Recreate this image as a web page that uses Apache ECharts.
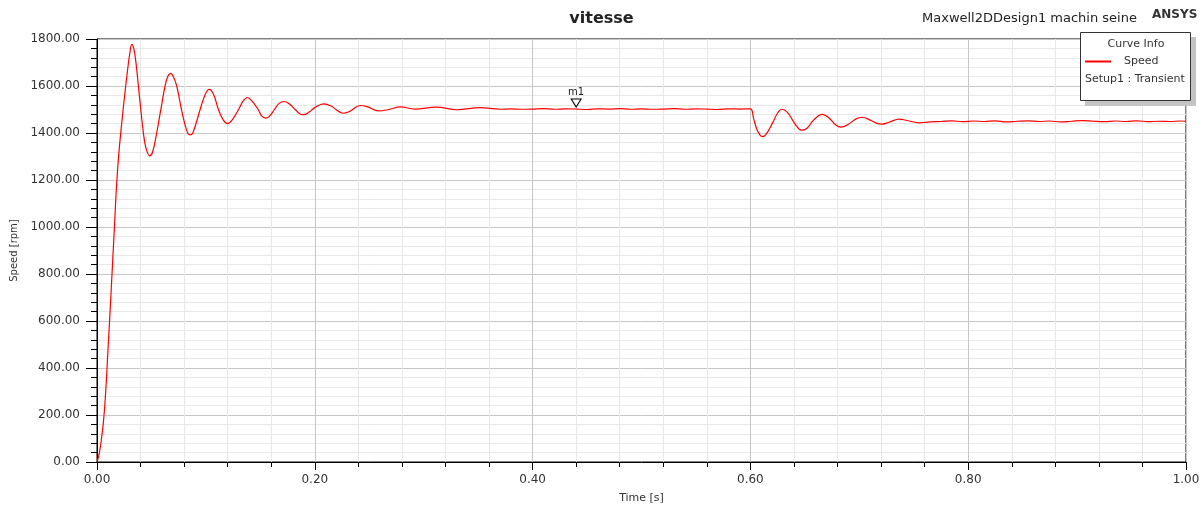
<!DOCTYPE html>
<html>
<head>
<meta charset="utf-8">
<title>vitesse</title>
<script src="https://cdn.jsdelivr.net/npm/echarts@6/dist/echarts.min.js"></script>
<style>
  html, body { margin: 0; padding: 0; background: #fff; }
  #chart { width: 1203px; height: 509px; }
</style>
</head>
<body>
<div id="chart"></div>
<script>
// Rotor speed of the machine over the transient run (time in s, speed in rpm)
const timeS = [
  0, 0.002, 0.004, 0.006, 0.008, 0.010, 0.012, 0.014, 0.016, 0.018,
  0.020, 0.022, 0.024, 0.026, 0.028, 0.030, 0.032, 0.034, 0.036, 0.038,
  0.040, 0.0426, 0.045, 0.0484, 0.051, 0.0548, 0.059, 0.0625, 0.065, 0.0677,
  0.070, 0.0732, 0.078, 0.0824, 0.0852, 0.088, 0.0947, 0.099, 0.103, 0.107,
  0.1115, 0.116, 0.120, 0.124, 0.130, 0.134, 0.138, 0.142, 0.148, 0.151,
  0.155, 0.158, 0.163, 0.167, 0.172, 0.177, 0.182, 0.187, 0.190, 0.195,
  0.200, 0.208, 0.215, 0.220, 0.2258, 0.232, 0.2417, 0.248, 0.2586, 0.268,
  0.2785, 0.292, 0.3116, 0.3306, 0.352, 0.37, 0.38, 0.39, 0.40, 0.41,
  0.42, 0.43, 0.44, 0.45, 0.46, 0.47, 0.48, 0.49, 0.50, 0.51,
  0.52, 0.53, 0.54, 0.55, 0.56, 0.57, 0.58, 0.59, 0.600, 0.603,
  0.606, 0.609, 0.611, 0.614, 0.620, 0.625, 0.629, 0.634, 0.640, 0.645,
  0.648, 0.652, 0.658, 0.666, 0.672, 0.678, 0.683, 0.690, 0.697, 0.703,
  0.710, 0.716, 0.721, 0.728, 0.7365, 0.745, 0.755, 0.765, 0.775, 0.785,
  0.795, 0.805, 0.815, 0.825, 0.835, 0.845, 0.855, 0.865, 0.875, 0.885,
  0.895, 0.905, 0.915, 0.925, 0.935, 0.945, 0.955, 0.965, 0.975, 0.985,
  0.995, 1.0
];
const speedRpm = [
  0, 35, 95, 175, 300, 470, 640, 820, 1000, 1180,
  1310, 1410, 1500, 1585, 1665, 1735, 1777, 1755, 1690, 1600,
  1510, 1400, 1335, 1303, 1318, 1400, 1510, 1600, 1640, 1654,
  1640, 1600, 1490, 1410, 1392, 1400, 1500, 1560, 1586, 1565,
  1500, 1455, 1440, 1455, 1500, 1535, 1551, 1538, 1500, 1474,
  1463, 1470, 1500, 1525, 1534, 1522, 1500, 1480, 1478, 1490,
  1508, 1524, 1515, 1498, 1484, 1492, 1517, 1512, 1494, 1500,
  1511, 1502, 1510, 1499, 1508, 1501, 1503, 1501, 1502, 1504,
  1501, 1503, 1502, 1500, 1503, 1502, 1504, 1501, 1503, 1501,
  1502, 1504, 1501, 1503, 1502, 1500, 1503, 1502, 1503, 1460,
  1415, 1390, 1385, 1392, 1440, 1485, 1501, 1488, 1445, 1416,
  1412, 1420, 1455, 1479, 1465, 1436, 1425, 1437, 1460, 1467,
  1455, 1441, 1438, 1447, 1459, 1452, 1443, 1447, 1449, 1452,
  1448, 1451, 1449, 1452, 1447, 1450, 1452, 1449, 1451, 1447,
  1450, 1453, 1450, 1448, 1451, 1449, 1452, 1448, 1450, 1449,
  1451, 1450
];

// Marker m1
const markerTime = 0.44;
const markerSpeed = 1502;

const xTicks = { min: 0, max: 1, interval: 0.2 };
const yTicks = { min: 0, max: 1800, interval: 200 };

const FONT = 'DejaVu Sans';
const TEXT = '#333';

const speedData = timeS.map((t, i) => [t, speedRpm[i]]);

const chart = echarts.init(document.getElementById('chart'), null, { renderer: 'canvas' });

chart.setOption({
  animation: false,
  backgroundColor: '#fff',
  title: {
    text: 'vitesse',
    left: 'center',
    top: 11,
    padding: 0,
    textStyle: { fontFamily: FONT, fontSize: 16, fontWeight: 'bold', color: '#222' }
  },
  grid: {
    left: 97, right: 17, top: 39, bottom: 46,
    show: true, borderColor: '#000', borderWidth: 1, backgroundColor: 'transparent'
  },
  legend: {
    data: ['Speed'],
    left: 1085,
    top: 56,
    padding: 0,
    icon: 'rect',
    itemWidth: 26,
    itemHeight: 2,
    z: 6,
    textStyle: { fontFamily: FONT, fontSize: 11, color: TEXT, padding: [0, 0, 0, 8] }
  },
  xAxis: {
    type: 'value',
    min: xTicks.min, max: xTicks.max, interval: xTicks.interval,
    name: 'Time [s]',
    nameLocation: 'middle',
    nameGap: 31,
    nameTextStyle: { fontFamily: FONT, fontSize: 11, color: TEXT },
    axisLine: { show: true, onZero: false, lineStyle: { color: '#000', width: 1 } },
    axisTick: { show: true, length: 8, lineStyle: { color: '#000' } },
    minorTick: { show: true, splitNumber: 5, length: 5, lineStyle: { color: '#000' } },
    axisLabel: {
      margin: 12,
      fontFamily: FONT, fontSize: 12, color: TEXT,
      formatter: v => v.toFixed(2)
    },
    splitLine: { show: true, lineStyle: { color: '#c6c6c6', width: 1 } },
    minorSplitLine: { show: true, lineStyle: { color: '#e8e8e8', width: 1 } }
  },
  yAxis: {
    type: 'value',
    min: yTicks.min, max: yTicks.max, interval: yTicks.interval,
    name: 'Speed [rpm]',
    nameLocation: 'middle',
    nameGap: 68,
    nameTextStyle: { fontFamily: FONT, fontSize: 10, color: TEXT },
    axisLine: { show: true, onZero: false, lineStyle: { color: '#000', width: 1 } },
    axisTick: { show: true, length: 11, lineStyle: { color: '#000' } },
    minorTick: { show: true, splitNumber: 5, length: 6, lineStyle: { color: '#000' } },
    axisLabel: {
      margin: 17,
      fontFamily: FONT, fontSize: 12, color: TEXT,
      formatter: v => v.toFixed(2)
    },
    splitLine: { show: true, lineStyle: { color: '#c6c6c6', width: 1 } },
    minorSplitLine: { show: true, lineStyle: { color: '#e8e8e8', width: 1 } }
  },
  series: [{
    name: 'Speed',
    type: 'line',
    data: speedData,
    showSymbol: false,
    smooth: 0.4,
    z: 2,
    lineStyle: { color: '#ff0000', width: 1.2 },
    itemStyle: { color: '#ff0000' },
    markPoint: {
      silent: true,
      data: [{
        name: 'm1',
        coord: [markerTime, markerSpeed],
        symbol: 'triangle',
        symbolRotate: 180,
        symbolSize: [10, 8],
        symbolOffset: [0, -6],
        itemStyle: { color: '#fff', borderColor: '#000', borderWidth: 1 },
        label: {
          show: true, position: 'top', distance: 1,
          formatter: 'm1', fontFamily: FONT, fontSize: 10, color: '#222'
        }
      }]
    }
  }],
  graphic: [
    // project caption and vendor mark above the plot
    {
      type: 'text', left: 922, top: 12, z: 5,
      style: { text: 'Maxwell2DDesign1 machin seine', font: '13px "DejaVu Sans"', fill: '#222' }
    },
    {
      type: 'text', left: 1152, top: 9, z: 5,
      style: { text: 'ANSYS', font: 'bold 12px "DejaVu Sans"', fill: '#333' }
    },
    // curve info box with drop shadow
    {
      type: 'rect', z: 3,
      shape: { x: 1085, y: 37, width: 111, height: 69 },
      style: { fill: '#c4c4c4' }
    },
    {
      type: 'rect', z: 3,
      shape: { x: 1080.5, y: 32.5, width: 110, height: 68 },
      style: { fill: '#fff', stroke: '#333', lineWidth: 1 }
    },
    {
      type: 'text', z: 5, x: 1136, y: 44,
      style: { text: 'Curve Info', font: '11px "DejaVu Sans"', fill: TEXT, align: 'center', verticalAlign: 'middle' }
    },
    {
      type: 'text', z: 5, x: 1085, y: 79,
      style: { text: 'Setup1 : Transient', font: '11px "DejaVu Sans"', fill: TEXT, align: 'left', verticalAlign: 'middle' }
    }
  ]
});
</script>
</body>
</html>
